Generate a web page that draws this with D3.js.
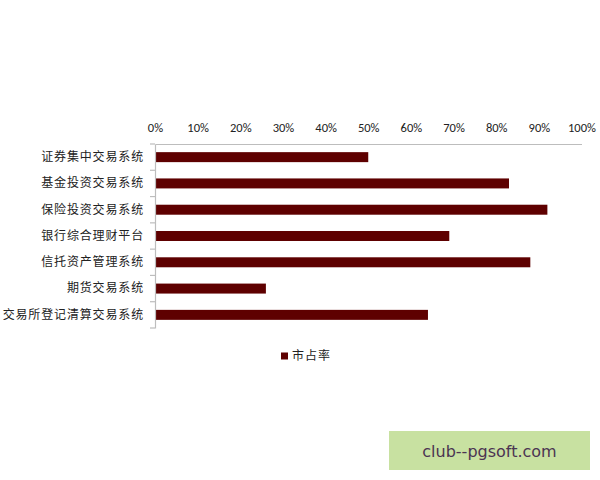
<!DOCTYPE html>
<html><head><meta charset="utf-8">
<script src="https://cdn.jsdelivr.net/npm/d3@7"></script>
<style>body{margin:0;background:#fff;} svg{display:block;}</style>
</head><body>
<svg id="chart" width="600" height="480"></svg>
<script>
const categories = ["证券集中交易系统","基金投资交易系统","保险投资交易系统","银行综合理财平台","信托资产管理系统","期货交易系统","交易所登记清算交易系统"];
const shareValues = [50, 83, 92, 69, 88, 26, 64];
const tickValues = [0,10,20,30,40,50,60,70,80,90,100];
const seriesName = "市占率";
const watermark = "club--pgsoft.com";

(function(){
const svg = d3.select("#chart");
const mLeft = 155, mRight = 581.5, mTop = 144, mBottom = 328;
const x = d3.scaleLinear().domain([0,100]).range([mLeft,mRight]);
const y = d3.scaleBand().domain(categories).range([mTop,mBottom]).paddingInner(0.62).paddingOuter(0.31);
const yb = d3.scaleBand().domain(categories).range([mTop,mBottom]);

// bars
svg.append("g").selectAll("rect").data(categories).join("rect")
  .attr("x", x(0)).attr("y", d=>y(d))
  .attr("width", (d,i)=>x(shareValues[i])-x(0))
  .attr("height", y.bandwidth())
  .attr("fill", "#5e0000");

// top axis
const xa = svg.append("g").attr("transform",`translate(0,${mTop})`)
  .call(d3.axisTop(x).tickValues(tickValues).tickFormat(d=>d+"%").tickSize(0).tickPadding(12));
xa.select(".domain").attr("stroke","#bdbdbd").attr("stroke-width",1.2);
xa.selectAll("text").attr("font-family","Carlito, 'Open Sans', 'Noto Sans', sans-serif").attr("font-size","12.5px").attr("fill","#222");

// left axis
const ya = svg.append("g").attr("transform",`translate(${mLeft},0)`)
  .call(d3.axisLeft(yb).tickSize(0).tickPadding(11));
ya.select(".domain").attr("stroke","#bdbdbd").attr("stroke-width",1.2);
ya.selectAll("text").attr("font-family","'Noto Sans CJK SC', sans-serif").attr("font-size","12px")
  .attr("letter-spacing","0.85px").attr("fill","#222");
// category boundary ticks
svg.append("g").selectAll("line").data(d3.range(categories.length+1)).join("line")
  .attr("x1", mLeft-5).attr("x2", mLeft)
  .attr("y1", i=> i<categories.length ? yb(categories[i]) : mBottom)
  .attr("y2", i=> i<categories.length ? yb(categories[i]) : mBottom)
  .attr("stroke","#bdbdbd").attr("stroke-width",1.2);

// legend
const lg = svg.append("g").attr("transform","translate(281,356)");
lg.append("rect").attr("x",0).attr("y",-3.5).attr("width",7).attr("height",7).attr("fill","#5e0000");
lg.append("text").attr("x",11).attr("y",0).attr("dy","0.35em").text(seriesName)
  .attr("font-family","'Noto Sans CJK SC', sans-serif").attr("font-size","12px").attr("letter-spacing","1px").attr("fill","#222");

// watermark
svg.append("rect").attr("x",389).attr("y",431).attr("width",201).attr("height",39).attr("fill","#c8e1a1");
svg.append("text").attr("x",489.5).attr("y",451).attr("dy","0.35em").attr("text-anchor","middle")
  .text(watermark).attr("font-family","'DejaVu Sans', sans-serif").attr("font-size","16px").attr("fill","#4b3452");
})();
</script>
</body></html>
